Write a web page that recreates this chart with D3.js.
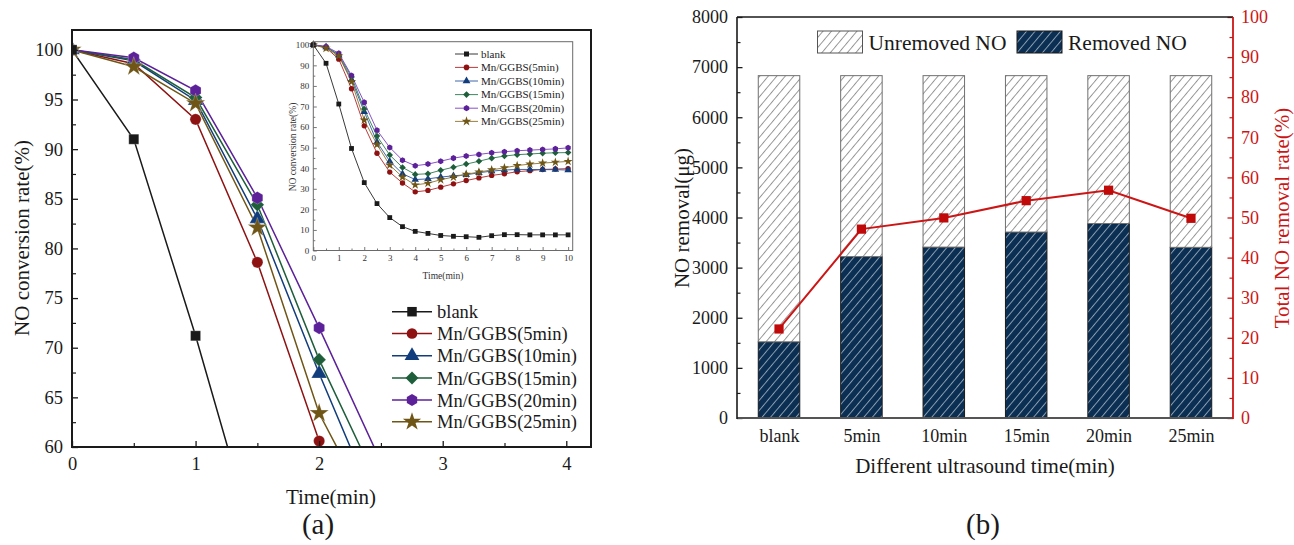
<!DOCTYPE html>
<html><head><meta charset="utf-8">
<script src="https://cdn.jsdelivr.net/npm/d3@7"></script>
<style>
body{margin:0;background:#fff;}
svg{display:block;font-family:"Liberation Serif",serif;}
</style></head><body>
<svg id="c" width="1294" height="545"></svg>
<script>
// ---------- DATA ----------
const timePoints = [0,0.5,1,1.5,2,2.5,3,3.5,4,4.5,5,5.5,6,6.5,7,7.5,8,8.5,9,9.5,10];
const seriesNames = ["blank","Mn/GGBS(5min)","Mn/GGBS(10min)","Mn/GGBS(15min)","Mn/GGBS(20min)","Mn/GGBS(25min)"];
const blankRate = [100,91,71.2,49.6,33,22.8,16,11.6,9.3,8.3,7.3,6.9,6.7,6.4,7.2,7.7,7.7,7.6,7.6,7.6,7.6];
const min5Rate  = [100,98.6,93,78.6,60.6,47.3,38.1,32.8,28.5,29.2,30.8,32.4,34,35.3,36.5,37.3,38.3,38.8,39.4,39.6,39.8];
const min10Rate = [100,98.9,94.9,83,67.4,52.7,43.4,37.3,34.5,34.8,35.7,36.3,36.8,37.8,38.6,39.1,39.4,39.4,39.3,39.3,39.1];
const min15Rate = [100,99,95.2,84.4,68.8,55.6,46.4,40.4,37,37.3,39,40.5,42,43.4,44.9,45.9,46.6,46.9,47.3,47.5,47.6];
const min20Rate = [100,99.2,95.9,85.1,72,58.5,50.1,43.9,41.2,42,43.4,44.9,45.9,46.7,47.5,48,48.5,48.8,49.1,49.4,49.9];
const min25Rate = [100,98.3,94.6,82.1,63.4,51.5,41.5,35.7,31.9,32.7,34.4,35.7,37.1,38.1,39.2,40.2,41.3,42,42.5,42.9,43.3];
const mainXTicks = [0,1,2,3,4];
const mainYTicks = [60,65,70,75,80,85,90,95,100];
const insetXTicks = [0,1,2,3,4,5,6,7,8,9,10];
const insetYTicks = [0,10,20,30,40,50,60,70,80,90,100];

const categoriesB = ["blank","5min","10min","15min","20min","25min"];
const removedNO   = [1520,3220,3410,3710,3880,3405];
const unremovedNO = [5310,3610,3420,3120,2950,3425];
const totalRemovalRate = [22.2,47.1,49.9,54.2,56.8,49.8];
const leftYTicksB = [0,1000,2000,3000,4000,5000,6000,7000,8000];
const rightYTicksB = [0,10,20,30,40,50,60,70,80,90,100];

// ---------- STYLE ----------
const FONT = "'Liberation Serif','Times New Roman',serif";
const seriesData = [blankRate,min5Rate,min10Rate,min15Rate,min20Rate,min25Rate];
const colors = ["#1a1a1a","#8e1212","#123d7c","#1f5e3b","#5c2099","#6f5516"];
const lineColorsInset = ["#222","#b02525","#2a55a0","#2a7a4e","#7a3cc0","#8f7228"];
const shapes = ["square","circle","triangle","diamond","hexagon","star"];
const ink = "#1a1a1a";
const fmt = d3.format("d");

const svg = d3.select("#c");
const defs = svg.append("defs");

function marker(shape, k){
  switch(shape){
    case "square": return d3.symbol(d3.symbolSquare, 100*k*k)();
    case "circle": return d3.symbol(d3.symbolCircle, Math.PI*5.6*5.6*k*k)();
    case "triangle": return d3.symbol(d3.symbolTriangle, 105*k*k)();
    case "diamond": { const r=6.8*k; return `M0,${-r}L${r},0L0,${r}L${-r},0Z`; }
    case "hexagon": { const r=6.3*k; let p=[]; for(let i=0;i<6;i++){const a=Math.PI/3*i - Math.PI/2; p.push([r*Math.cos(a), r*Math.sin(a)]);} return "M"+p.map(q=>q.join(",")).join("L")+"Z"; }
    case "star": return d3.symbol(d3.symbolStar, 115*k*k)();
  }
}

function inwardAxis(g, axisFn, scale, major, minor, majorLen, minorLen, pad, fontSize, color){
  const a = axisFn(scale).tickValues(major).tickSize(-majorLen).tickSizeOuter(0).tickPadding(pad).tickFormat(fmt);
  g.call(a);
  g.attr("font-family", FONT).attr("font-size", fontSize);
  g.select(".domain").remove();
  g.selectAll(".tick line").attr("stroke", color).attr("stroke-width", 1.3);
  g.selectAll(".tick text").attr("fill", color).attr("font-family", FONT)
    .style("font-family", FONT).style("font-size", fontSize+"px");
  if(minor){
    const m = g.append("g").call(axisFn(scale).tickValues(minor).tickSize(-minorLen).tickFormat("").tickSizeOuter(0));
    m.select(".domain").remove();
    m.selectAll(".tick line").attr("stroke", color).attr("stroke-width", 1.2);
  }
}

// ================= PANEL (a) =================
const xA = d3.scaleLinear().domain([0,4.2]).range([72,591]);
const yA = d3.scaleLinear().domain([60,102]).range([447,30]);

defs.append("clipPath").attr("id","clipA").append("rect")
  .attr("x",72).attr("y",30).attr("width",519).attr("height",417);

const gA = svg.append("g");
const plotA = gA.append("g").attr("clip-path","url(#clipA)");
const lineA = d3.line().x((d,i)=>xA(timePoints[i])).y(d=>yA(d));
const order = [1,2,3,4,5,0];
order.forEach(si=>{
  plotA.append("path").attr("d", lineA(seriesData[si])).attr("fill","none")
    .attr("stroke", colors[si]).attr("stroke-width",1.5);
});
order.forEach(si=>{
  seriesData[si].forEach((v,i)=>{
    if(timePoints[i] > 4.2 || v < 59) return;
    plotA.append("path").attr("d", marker(shapes[si],1))
      .attr("transform",`translate(${xA(timePoints[i])},${yA(v)})`)
      .attr("fill", colors[si]).attr("stroke","#fff").attr("stroke-width",0.4).attr("stroke-opacity",0.6);
  });
});

// axes (a)
const axXA = gA.append("g").attr("transform","translate(0,447)");
inwardAxis(axXA, d3.axisBottom, xA, mainXTicks, [0.5,1.5,2.5,3.5], 6, 4, 10, 18.5, ink);
const axYA = gA.append("g").attr("transform","translate(72,0)");
inwardAxis(axYA, d3.axisLeft, yA, mainYTicks, [62.5,67.5,72.5,77.5,82.5,87.5,92.5,97.5], 6, 4, 9, 18.5, ink);
gA.append("rect").attr("x",72).attr("y",30).attr("width",519).attr("height",417)
  .attr("fill","none").attr("stroke",ink).attr("stroke-width",2);

function label(g, txt, size, color){
  return g.append("text").style("font-family", FONT).style("font-size", size+"px").attr("fill", color).text(txt);
}
label(gA,"Time(min)",21,ink).attr("x",331).attr("y",504).attr("text-anchor","middle");
label(gA,"NO conversion rate(%)",21,ink).attr("transform","translate(29,238) rotate(-90)").attr("text-anchor","middle");
label(gA,"(a)",29,ink).attr("x",318).attr("y",534).attr("text-anchor","middle");

// legend (a)
const legYA = [311.7,333.5,355.8,378,400,421.8];
seriesNames.forEach((n,i)=>{
  const g = gA.append("g").attr("transform",`translate(0,${legYA[i]})`);
  g.append("line").attr("x1",392).attr("x2",432).attr("stroke",colors[i]).attr("stroke-width",1.5);
  g.append("path").attr("d",marker(shapes[i],0.95)).attr("transform","translate(412,0)").attr("fill",colors[i]);
  label(g,n,18.5,ink).attr("x",437).attr("y",6.5);
});

// ----- inset -----
const xI = d3.scaleLinear().domain([0,10.18]).range([313.3,572.7]);
const yI = d3.scaleLinear().domain([0,101.5]).range([250.5,41.7]);
const gI = svg.append("g");
gI.append("rect").attr("x",313.3).attr("y",41.7).attr("width",259.4).attr("height",208.8).attr("fill","#fff");
const lineI = d3.line().x((d,i)=>xI(timePoints[i])).y(d=>yI(d));
order.forEach(si=>{
  gI.append("path").attr("d", lineI(seriesData[si])).attr("fill","none")
    .attr("stroke", lineColorsInset[si]).attr("stroke-width",0.9);
});
order.forEach(si=>{
  seriesData[si].forEach((v,i)=>{
    gI.append("path").attr("d", marker(shapes[si],0.48))
      .attr("transform",`translate(${xI(timePoints[i])},${yI(v)})`).attr("fill", colors[si]);
  });
});
const axXI = gI.append("g").attr("transform","translate(0,250.5)");
inwardAxis(axXI, d3.axisBottom, xI, insetXTicks, d3.range(0.5,10,1), 3.5, 2, 4, 9, "#333");
const axYI = gI.append("g").attr("transform","translate(313.3,0)");
inwardAxis(axYI, d3.axisLeft, yI, insetYTicks, d3.range(5,100,10), 3.5, 2, 4, 9, "#333");
gI.append("rect").attr("x",313.3).attr("y",41.7).attr("width",259.4).attr("height",208.8)
  .attr("fill","none").attr("stroke","#6a6a6a").attr("stroke-width",1);
gI.selectAll(".tick line").attr("stroke","#555").attr("stroke-width",0.8);
label(gI,"Time(min)",9.5,"#333").attr("x",443).attr("y",279).attr("text-anchor","middle");
label(gI,"NO conversion rate(%)",9.5,"#333").attr("transform","translate(296,147) rotate(-90)").attr("text-anchor","middle");
const legYI = [54,67.4,81,94.6,108.2,121.4];
seriesNames.forEach((n,i)=>{
  const g = gI.append("g").attr("transform",`translate(0,${legYI[i]})`);
  g.append("line").attr("x1",455).attr("x2",478).attr("stroke",lineColorsInset[i]).attr("stroke-width",0.9);
  g.append("path").attr("d",marker(shapes[i],0.5)).attr("transform","translate(466.5,0)").attr("fill",colors[i]);
  label(g,n,11,"#222").attr("x",481).attr("y",3.8);
});

// ================= PANEL (b) =================
const navy = "#0b2f52";
const redB = "#cc1616";
const pw = defs.append("pattern").attr("id","hatchW").attr("patternUnits","userSpaceOnUse")
  .attr("width",6.5).attr("height",6.5).attr("patternTransform","rotate(40)");
pw.append("rect").attr("width",6.5).attr("height",6.5).attr("fill","#fff");
pw.append("line").attr("x1",0.5).attr("y1",0).attr("x2",0.5).attr("y2",6.5).attr("stroke","#8c8c8c").attr("stroke-width",0.9);
const pn = defs.append("pattern").attr("id","hatchN").attr("patternUnits","userSpaceOnUse")
  .attr("width",6.5).attr("height",6.5).attr("patternTransform","rotate(40)");
pn.append("rect").attr("width",6.5).attr("height",6.5).attr("fill",navy);
pn.append("line").attr("x1",0.5).attr("y1",0).attr("x2",0.5).attr("y2",6.5).attr("stroke","#a7b6c6").attr("stroke-width",0.8);

const xB = d3.scalePoint().domain(categoriesB).range([737,1233]).padding(0.51);
const yB = d3.scaleLinear().domain([0,8000]).range([418,17]);
const yR = d3.scaleLinear().domain([0,100]).range([418,17]);
const bw = 41.5;

const gB = svg.append("g");
const stackData = categoriesB.map((c,i)=>({cat:c, removed:removedNO[i], unremoved:unremovedNO[i]}));
const stacked = d3.stack().keys(["removed","unremoved"])(stackData);
const fills = {removed:"url(#hatchN)", unremoved:"url(#hatchW)"};
const strokes = {removed:"#1a1a1a", unremoved:"#707070"};
stacked.forEach(layer=>{
  gB.append("g").selectAll("rect").data(layer).join("rect")
    .attr("x", d=>xB(d.data.cat)-bw/2).attr("width", bw)
    .attr("y", d=>yB(d[1])).attr("height", d=>yB(d[0])-yB(d[1]))
    .attr("fill", fills[layer.key]).attr("stroke", strokes[layer.key]).attr("stroke-width",1);
});

// red line
const lineB = d3.line().x((d,i)=>xB(categoriesB[i])).y(d=>yR(d));
gB.append("path").attr("d", lineB(totalRemovalRate)).attr("fill","none").attr("stroke",redB).attr("stroke-width",2);
totalRemovalRate.forEach((v,i)=>{
  gB.append("rect").attr("x",xB(categoriesB[i])-4.6).attr("y",yR(v)-4.6).attr("width",9.2).attr("height",9.2).attr("fill","#c00a0a");
});

// axes (b)
const axYB = gB.append("g").attr("transform","translate(737,0)");
inwardAxis(axYB, d3.axisLeft, yB, leftYTicksB, d3.range(500,8000,1000), 5.5, 3.5, 9, 18, ink);
const axRB = gB.append("g").attr("transform","translate(1233,0)");
inwardAxis(axRB, d3.axisRight, yR, rightYTicksB, d3.range(5,100,10), 5.5, 3.5, 8, 18, redB);
const axXB = gB.append("g").attr("transform","translate(0,418)");
axXB.call(d3.axisBottom(xB).tickSize(0).tickPadding(11));
axXB.attr("font-family", FONT).attr("font-size", 18);
axXB.select(".domain").remove();
axXB.selectAll(".tick text").attr("fill",ink).style("font-family", FONT).style("font-size","18px");

gB.append("line").attr("x1",737).attr("x2",1233).attr("y1",17).attr("y2",17).attr("stroke",ink).attr("stroke-width",1.6);
gB.append("line").attr("x1",737).attr("x2",1233).attr("y1",418).attr("y2",418).attr("stroke","#555").attr("stroke-width",2);
gB.append("line").attr("x1",737).attr("x2",737).attr("y1",17).attr("y2",419).attr("stroke",ink).attr("stroke-width",1.6);
gB.append("line").attr("x1",1233).attr("x2",1233).attr("y1",17).attr("y2",419).attr("stroke",redB).attr("stroke-width",1.8);

label(gB,"Different ultrasound time(min)",21,ink).attr("x",985).attr("y",473).attr("text-anchor","middle");
label(gB,"NO removal(\u03bcg)",21,ink).attr("transform","translate(689,218) rotate(-90)").attr("text-anchor","middle");
label(gB,"Total NO removal rate(%)",21,redB).attr("transform","translate(1289,218) rotate(-90)").attr("text-anchor","middle");
label(gB,"(b)",29,ink).attr("x",983).attr("y",534).attr("text-anchor","middle");

// legend (b)
const legB = [{k:"unremoved", label:"Unremoved NO", x:817.5},{k:"removed", label:"Removed NO", x:1017}];
legB.forEach(L=>{
  gB.append("rect").attr("x",L.x).attr("y",31).attr("width",45).attr("height",22)
    .attr("fill",fills[L.k]).attr("stroke",L.k==="removed"?"#1a1a1a":"#555").attr("stroke-width",1);
  label(gB,L.label,21.5,ink).attr("x",L.x+51).attr("y",50);
});
</script>
</body></html>
